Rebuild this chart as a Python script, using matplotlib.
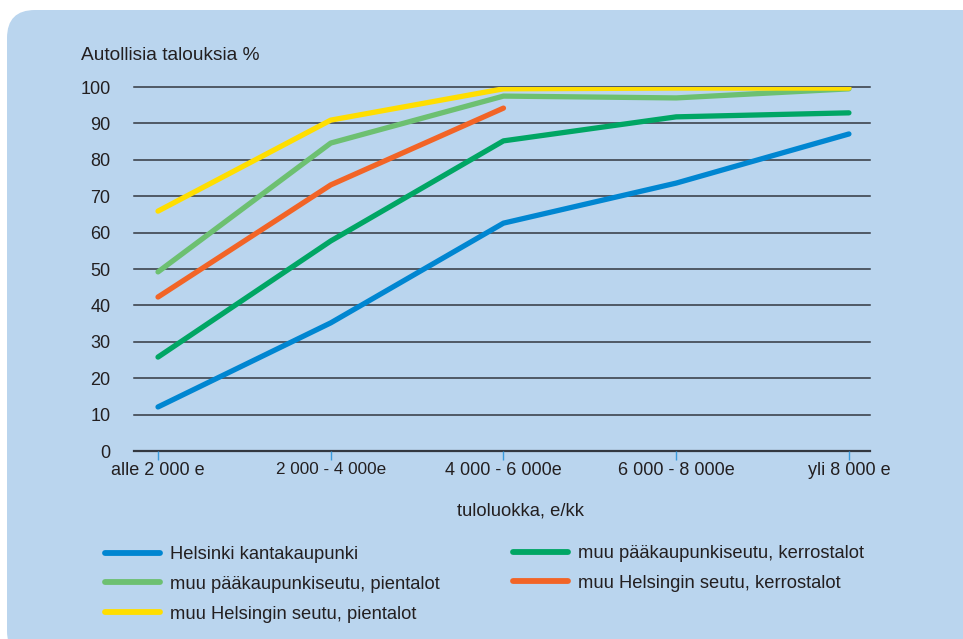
import matplotlib
matplotlib.use("Agg")
import matplotlib.pyplot as plt
from matplotlib.patches import FancyBboxPatch
from matplotlib.transforms import IdentityTransform

plt.rcParams['font.family'] = ['Liberation Sans', 'DejaVu Sans']

categories = ["alle 2 000 e", "2 000 - 4 000e", "4 000 - 6 000e", "6 000 - 8 000e", "yli 8 000 e"]
helsinki_kanta = [12.1, 35.2, 62.6, 73.6, 87.1]
paak_kerros = [25.8, 57.7, 85.2, 91.8, 92.9]
paak_pienta = [49.2, 84.6, 97.5, 97.0, 99.5]
hels_kerros = [42.3, 73.1, 94.2]
hels_pienta = [65.9, 90.9, 99.5, 99.7, 99.7]

labels = ["Helsinki kantakaupunki",
          "muu pääkaupunkiseutu, kerrostalot",
          "muu pääkaupunkiseutu, pientalot",
          "muu Helsingin seutu, kerrostalot",
          "muu Helsingin seutu, pientalot"]
colors = ["#0086D1", "#00A664", "#6DC071", "#F26426", "#FFDE00"]
series = [helsinki_kanta, paak_kerros, paak_pienta, hels_kerros, hels_pienta]
yticks = [0, 10, 20, 30, 40, 50, 60, 70, 80, 90, 100]

W, H = 963, 639
fig = plt.figure(figsize=(W / 100, H / 100), dpi=100, facecolor="white")
bg = "#BAD5EE"
txt = "#231F20"

# rounded background panel (pixel coords)
box = FancyBboxPatch((7, -20), 990, 649, boxstyle="round,pad=0,rounding_size=28",
                     transform=IdentityTransform(), facecolor=bg, edgecolor="none", zorder=-10)
fig.patches.append(box)

def fx(px):
    return px / W

def fy(py):
    return 1 - py / H

ax = fig.add_axes([fx(134), fy(451), fx(870) - fx(134), fy(87) - fy(451)])
ax.set_facecolor("none")
ax.set_zorder(1)

x = list(range(len(categories)))
handles = []
for vals, c, lab in zip(series, colors, labels):
    ln, = ax.plot(x[:len(vals)], vals, color=c, lw=3.8, solid_capstyle="round",
                  solid_joinstyle="round", label=lab, zorder=3)
    handles.append(ln)

ax.set_xlim(-0.139, 4.122)
ax.set_ylim(0, 100)
ax.set_yticks(yticks)
ax.set_yticklabels([str(v) for v in yticks], fontsize=13, color=txt)
for yv in yticks[1:]:
    ax.axhline(yv, color="#333840", lw=1.1, zorder=1, clip_on=False)
ax.tick_params(axis="y", length=0, pad=17)

ax.set_xticks(x)
ax.set_xticklabels(categories, color=txt)
for i, t in enumerate(ax.get_xticklabels()):
    t.set_fontsize(12.3 if i == 1 else 13)
ax.tick_params(axis="x", length=6.5, width=1, color="#3A9BDC", pad=1.5)

for s in ["top", "right", "left"]:
    ax.spines[s].set_visible(False)
ax.spines["bottom"].set_color("#333840")
ax.spines["bottom"].set_linewidth(1.6)
ax.spines["bottom"].set_zorder(1)

fig.text(fx(81), fy(56), "Autollisia talouksia %", fontsize=13.8, color=txt,
         ha="left", va="center")
fig.text(fx(520), fy(511), "tuloluokka, e/kk", fontsize=13.2, color=txt,
         ha="center", va="center")

leg_kw = dict(frameon=False, fontsize=13.2, handlelength=3.0, handletextpad=0.55,
              labelspacing=0.7, borderpad=0, borderaxespad=0, labelcolor=txt,
              loc="upper left")
h1 = [handles[0], handles[2], handles[4]]
l1 = [h.get_label() for h in h1]
h2 = [handles[1], handles[3]]
l2 = [h.get_label() for h in h2]
leg1 = fig.legend(h1, l1, bbox_to_anchor=(fx(105), fy(546)), **leg_kw)
leg2 = fig.legend(h2, l2, bbox_to_anchor=(fx(513), fy(545)), **leg_kw)
for lg in (leg1, leg2):
    for lh in lg.legend_handles:
        lh.set_linewidth(4.2)
        lh.set_solid_capstyle("round")

fig.savefig("out.png", dpi=100, facecolor="white")
